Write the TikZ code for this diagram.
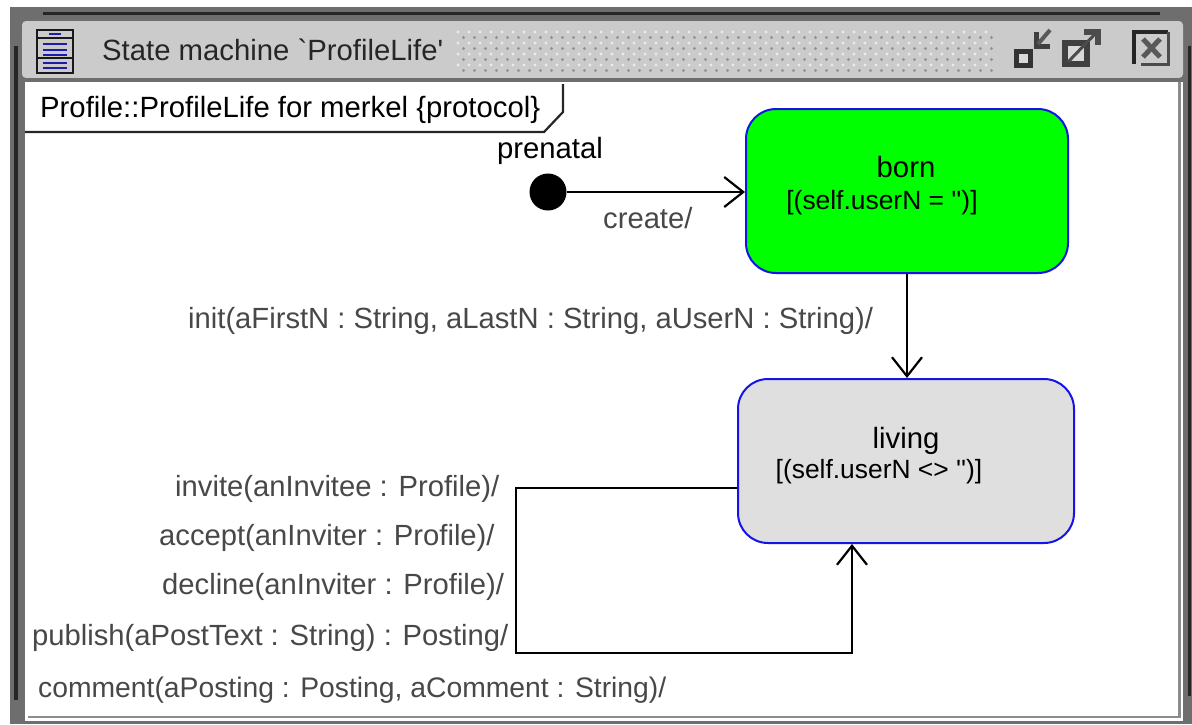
\documentclass[tikz,border=0pt]{standalone}
\usepackage{fontspec}
\setmainfont{Liberation Sans}[Ligatures=TeXOff]
\usepackage{tikz}
\usetikzlibrary{positioning}
\usetikzlibrary{arrows.meta}
\usetikzlibrary{shapes}
\definecolor{barGray}{HTML}{CBCBCB}
\definecolor{frameGray}{HTML}{6E6E6E}
\definecolor{labelGray}{HTML}{484848}
\definecolor{bornGreen}{HTML}{00FF00}
\definecolor{livingGray}{HTML}{DFDFDF}
\definecolor{edgeBlue}{HTML}{1414E6}
\definecolor{iconBlue}{HTML}{1C1CA8}

\begin{document}
\begin{tikzpicture}[x=1pt, y=-1pt,
    S/.style={draw=edgeBlue, line width=2pt, rounded corners=30pt, minimum height=164pt},
    T/.style={labelGray, font=\fontsize{29.2}{29.2}\selectfont, inner sep=0pt},
    N/.style={black, font=\fontsize{29.3}{29.3}\selectfont, inner sep=0pt},
    G/.style={black, font=\fontsize{26.4}{26.4}\selectfont, inner sep=0pt},
    E/.style={line width=2.4pt, black},
    A/.style={E, -{Straight Barb[length=19pt, width=30pt, line width=2.2pt]}}]
    % window
    \useasboundingbox (0,0) rectangle (1192,724);
    \fill[white] (0,0) rectangle (1192,724);
    \fill[frameGray] (10,7) rectangle (1192,724);
    \fill[black!85] (43,12) rectangle (1160,15);
    \fill[black!85] (14,46) rectangle (18,700);
    \fill[black!85] (1188,46) rectangle (1191,696);
    \fill[white] (25,80) rectangle (1183,721);
    \fill[black!45] (28,716) rectangle (1181,718);
    \fill[black!45] (1178,82) rectangle (1181,718);
    \fill[barGray, rounded corners=4pt] (22,21) rectangle (1183,78);
    \fill[frameGray] (22,78) rectangle (1183,82);

    % dither of the title bar
    \foreach \i in {0,...,48} {
        \foreach \j in {0,...,3} {
            \fill[white!92!black] (458+\i*11,32+\j*11) circle (1.7pt);
            \fill[black!42] (463.5+\i*11,37.5+\j*11) circle (1.7pt);
        }
    }

    % title bar icon
    \draw[line width=2.6pt, black!90, fill=barGray] (37,30) rectangle (73,73);
    \draw[line width=2.2pt, black!90] (37,38) -- (73,38);
    \draw[line width=2.2pt, black!90] (37,58) -- (73,58);
    \draw[iconBlue, line width=2.4pt] (49,34) -- (61,34);
    \draw[iconBlue, line width=2.4pt] (43,44) -- (67,44);
    \draw[iconBlue, line width=2.4pt] (43,50) -- (67,50);
    \draw[iconBlue, line width=2.4pt] (43,55) -- (67,55);
    \draw[iconBlue, line width=2.4pt] (43,63) -- (67,63);
    \draw[iconBlue, line width=2.4pt] (43,68) -- (67,68);

    % window buttons
    \draw[line width=5pt, black!80, fill=white!85!black] (1016,51) rectangle (1030,65);
    \draw[line width=5pt, black!75] (1036,32) -- (1036,46) -- (1050,46);
    \draw[line width=4pt, black!65] (1038,44) -- (1050,30);
    \draw[line width=6pt, black!75, fill=white!85!black] (1065,43) rectangle (1087,64);
    \draw[line width=3pt, black!70] (1068,62) -- (1096,33);
    \draw[line width=6pt, black!70] (1084,32) -- (1098,32) -- (1098,45);
    \draw[line width=4pt, black!85] (1134,64) -- (1134,32) -- (1168,32);
    \draw[line width=3pt, black!70] (1168,32) -- (1168,64) -- (1141,64);
    \draw[line width=5pt, black!65] (1143,39) -- (1160,57);
    \draw[line width=5pt, black!65] (1160,39) -- (1143,57);

    % title text
    \node[N, anchor=base west, black!85] (title) at (102,60) {State machine `ProfileLife'};
    \node[N, anchor=base west] (context) at (40,117) {Profile::ProfileLife for merkel \{protocol\}};
    \draw[line width=2.2pt, black!85] (25,132) -- (544,132) -- (563,112) -- (563,84);

    % states
    \node[S, fill=bornGreen, minimum width=322pt] (born) at (907,191) {};
    \node[S, fill=livingGray, minimum width=336pt] (living) at (906,461) {};
    \node[N, anchor=base] (bornN) at (906,177) {born};
    \node[G, anchor=base] (bornG) at (882,209) {[(self.userN = '')]};
    \node[N, anchor=base] (livingN) at (906,448) {living};
    \node[G, anchor=base] (livingG) at (879,478) {[(self.userN <> '')]};

    % initial state
    \node[fill=black, circle, minimum size=37pt, inner sep=0pt] (init) at (548,192) {};
    \node[N, anchor=base] (prenatal) at (550,158) {prenatal};

    % transition labels
    \node[T, anchor=base west] (create) at (603,228) {create/};
    \node[T, anchor=base west] (initL) at (188,328) {init(aFirstN : String, aLastN : String, aUserN : String)/};
    \node[T, anchor=base west] (invite) at (175,496) {invite(anInvitee : Profile)/};
    \node[T, anchor=base west] (accept) at (159,545) {accept(anInviter : Profile)/};
    \node[T, anchor=base west] (decline) at (162,594) {decline(anInviter : Profile)/};
    \node[T, anchor=base west] (publish) at (32,645) {publish(aPostText : String) : Posting/};
    \node[T, anchor=base west, font=\fontsize{28.3}{28.3}\selectfont] (comment) at (38,697) {comment(aPosting : Posting, aComment : String)/};

    % connectors
    \coordinate (loopT) at (516,488);
    \coordinate (loopB) at (516,653);
    \coordinate (loopE) at (852,653);

    \draw[A] (init) -- (born.west |- init);
    \draw[A] (born) -- (born |- living.north);
    \draw[A] (living.west |- loopT) -- (loopT) -- (loopB) -- (loopE) -- (loopE |- living.south);
\end{tikzpicture}
\end{document}
